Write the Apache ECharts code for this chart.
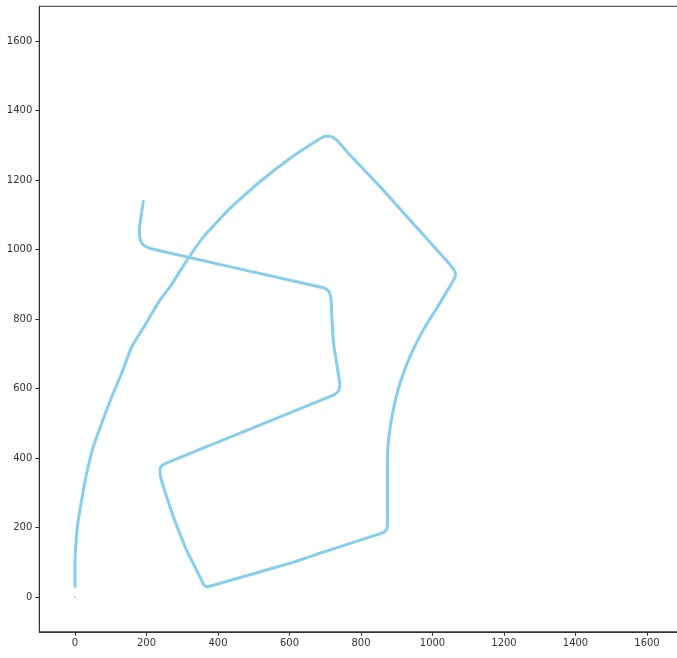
<!DOCTYPE html>
<html>
<head>
<meta charset="utf-8">
<script src="https://cdn.jsdelivr.net/npm/echarts@6/dist/echarts.min.js"></script>
<style>html,body{margin:0;padding:0;background:#fff;overflow:hidden}#c{width:683px;height:658px}</style>
</head>
<body>
<div id="c"></div>
<script>
// trajectory (x, y)
const pathX = [0,0,6.5,18.6,32.6,51,74.6,102.6,130.5,158.5,196,238,266,317,364,434,517,601,676,700,715,732,769,853,1012,1050,1063,1064,1058,1026,974,937,909,890,878,874,874,874,872,862,685,601,387,370,360,354,312,275,238,240,255,723,737,741,723,718,716,710,695,685,210,190,182,180,191];
const pathY = [31,106,202,279,356,432,500,576,644,720,783,855,893,975,1042,1119,1195,1262,1313,1326,1326,1315,1272,1181,999,955,936,925,910,855,768,692,615,538,461,394,279,212,195,185,126,97,34,29,35,49,135,231,356,375,385,581,593,608,730,817,860,880,890,892,1003,1014,1030,1056,1138];
// isolated origin point
const originX = [0];
const originY = [0];
const xTicks = [0,200,400,600,800,1000,1200,1400,1600];
const yTicks = [0,200,400,600,800,1000,1200,1400,1600];

const pathData = pathX.map((x,i)=>[x,pathY[i]]);
const originData = originX.map((x,i)=>[x,originY[i]]);

const chart = echarts.init(document.getElementById('c'), null, {renderer:'canvas'});
const lbl = (vals)=>({color:'#333', fontSize:10, fontFamily:'DejaVu Sans', margin:7, customValues:vals, formatter:(v)=>String(v)});
const tick = (vals)=>({show:true, length:4, lineStyle:{color:'#333'}, customValues:vals});
chart.setOption({
  animation:false,
  grid:{left:39.25, top:6.25, right:0.25, bottom:26.25, show:true, borderColor:'#333', borderWidth:1, containLabel:false},
  xAxis:{type:'value', min:-100, max:1700, splitLine:{show:false},
    axisLine:{show:true, onZero:false, lineStyle:{color:'#333', width:1}},
    axisTick:tick(xTicks), axisLabel:lbl(xTicks)},
  yAxis:{type:'value', min:-100, max:1700, splitLine:{show:false},
    axisLine:{show:true, onZero:false, lineStyle:{color:'#333', width:1}},
    axisTick:tick(yTicks), axisLabel:lbl(yTicks)},
  series:[
    {type:'line', data:pathData, showSymbol:false, symbol:'none', smooth:0.12, lineStyle:{color:'#87CEEB', width:3, join:'round', cap:'round'}},
    {type:'scatter', data:originData, symbolSize:2, itemStyle:{color:'#87CEEB'}}
  ]
});
</script>
</body>
</html>
